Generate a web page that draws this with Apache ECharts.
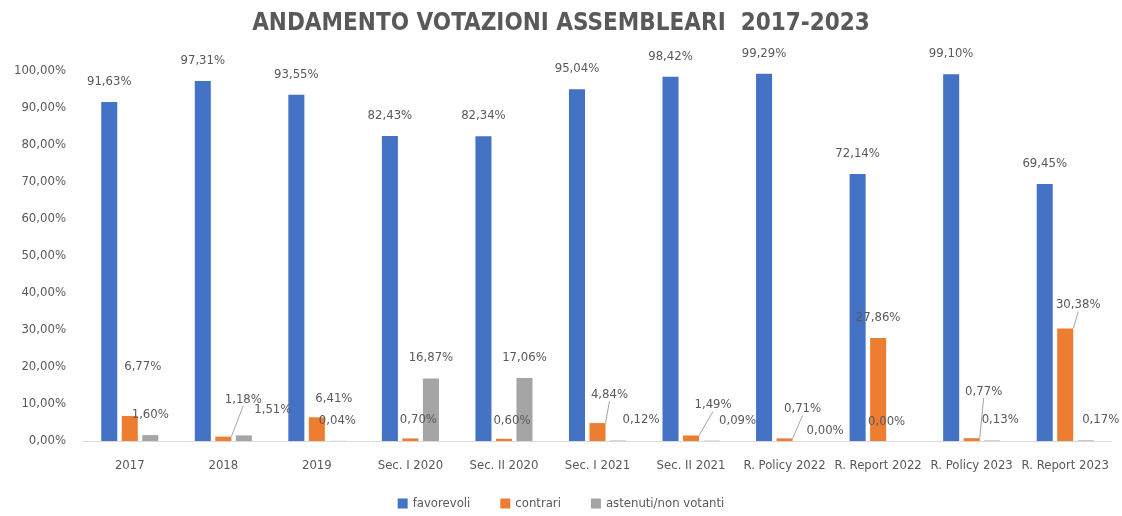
<!DOCTYPE html>
<html>
<head>
<meta charset="utf-8">
<script src="https://cdn.jsdelivr.net/npm/echarts@6/dist/echarts.min.js"></script>
<style>
  html, body { margin: 0; padding: 0; background: #fff; }
  #chart { width: 1122px; height: 516px; }
</style>
</head>
<body>
<div id="chart"></div>
<script>
const categories = ['2017', '2018', '2019', 'Sec. I 2020', 'Sec. II 2020', 'Sec. I 2021',
  'Sec. II 2021', 'R. Policy 2022', 'R. Report 2022', 'R. Policy 2023', 'R. Report 2023'];
const favorevoli = [91.63, 97.31, 93.55, 82.43, 82.34, 95.04, 98.42, 99.29, 72.14, 99.10, 69.45];
const contrari = [6.77, 1.18, 6.41, 0.70, 0.60, 4.84, 1.49, 0.71, 27.86, 0.77, 30.38];
const astenuti = [1.60, 1.51, 0.04, 16.87, 17.06, 0.12, 0.09, 0.00, 0.00, 0.13, 0.17];

// label moves done by hand in the original sheet
const contrariShift = [[13, -29], [20, -17], [17, 2], [8, 2], [8, 2], [12, -8], [22, -10], [18, -9], [0, 0], [12, -26], [13, -3]];
const contrariLine = [1, 5, 6, 7, 9, 10];
const astenutiShift = [[0, 0], [29, -5], [0, 0], [0, 0], [0, 0], [23, 0], [26, 0], [20, 10], [-12, 1], [8, 0], [15, 0]];

const FONT = '"Liberation Sans Narrow", "DejaVu Sans Condensed", sans-serif';
const fmt = v => v.toFixed(2).replace('.', ',') + '%';

const myChart = echarts.init(document.getElementById('chart'));

const labelBase = {
  show: true,
  position: 'top',
  distance: 14,
  color: '#595959',
  fontFamily: FONT,
  fontSize: 13,
  formatter: p => fmt(p.value)
};

const option = {
  animation: false,
  backgroundColor: '#fff',
  title: {
    text: 'ANDAMENTO VOTAZIONI ASSEMBLEARI  2017-2023',
    left: 'center',
    top: 7,
    textStyle: { color: '#595959', fontFamily: FONT, fontWeight: 'bold', fontSize: 24 }
  },
  legend: {
    bottom: 1,
    left: 'center',
    itemWidth: 10,
    itemHeight: 10,
    itemGap: 30,
    icon: 'rect',
    textStyle: { color: '#595959', fontFamily: FONT, fontSize: 13 }
  },
  grid: { left: 83, right: 10, top: 71, bottom: 75 },
  xAxis: {
    type: 'category',
    data: categories,
    axisLine: { lineStyle: { color: '#d9d9d9' } },
    axisTick: { show: false },
    axisLabel: { interval: 0, color: '#595959', fontFamily: FONT, fontSize: 13, margin: 18 }
  },
  yAxis: {
    type: 'value',
    min: 0,
    max: 100,
    interval: 10,
    splitLine: { show: false },
    axisLine: { show: false },
    axisLabel: { color: '#595959', fontFamily: FONT, fontSize: 13, margin: 17, formatter: v => fmt(v) }
  },
  series: [
    {
      name: 'favorevoli',
      type: 'bar',
      data: favorevoli,
      barGap: '28%',
      barCategoryGap: '39%',
      itemStyle: { color: '#4472C4' },
      label: labelBase
    },
    {
      name: 'contrari',
      type: 'bar',
      data: contrari.map((v, i) => ({ value: v, labelLine: { show: contrariLine.indexOf(i) >= 0 } })),
      itemStyle: { color: '#ED7D31' },
      label: labelBase,
      labelLine: { lineStyle: { color: '#a6a6a6', width: 1 } },
      labelLayout: p => ({ dx: contrariShift[p.dataIndex][0], dy: contrariShift[p.dataIndex][1] })
    },
    {
      name: 'astenuti/non votanti',
      type: 'bar',
      data: astenuti,
      itemStyle: { color: '#A5A5A5' },
      label: labelBase,
      labelLayout: p => ({ dx: astenutiShift[p.dataIndex][0], dy: astenutiShift[p.dataIndex][1] })
    }
  ]
};

myChart.setOption(option);
window.addEventListener('resize', () => myChart.resize());
</script>
</body>
</html>
